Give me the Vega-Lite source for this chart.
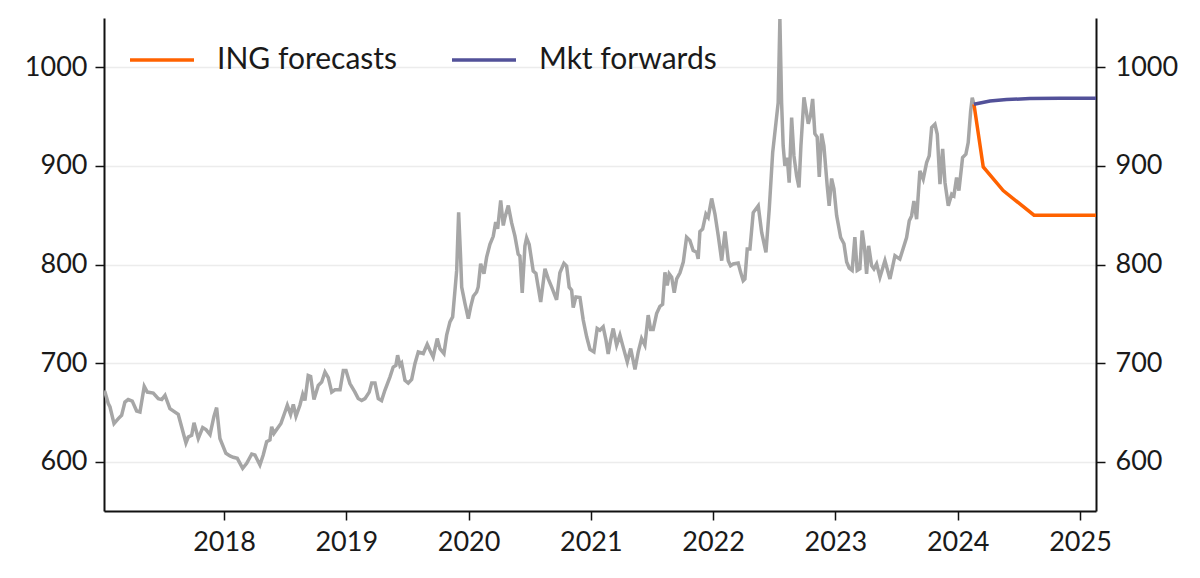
{
  "$schema": "https://vega.github.io/schema/vega-lite/v6.json",
  "width": 992,
  "height": 493,
  "autosize": {"type": "none"},
  "padding": {"left": 104, "top": 18, "right": 104, "bottom": 67},
  "background": "white",
  "config": {
    "view": {"stroke": null},
    "font": "Lato",
    "axis": {
      "labelFont": "Lato",
      "labelFontSize": 27,
      "labelColor": "#1a1a1a",
      "domainColor": "#111111",
      "domainWidth": 2,
      "tickColor": "#111111",
      "tickWidth": 1.5,
      "tickSize": 9,
      "labelPadding": 8,
      "gridColor": "#ececec",
      "gridWidth": 1.5,
      "title": null
    }
  },
  "datasets": {
    "history": [
      {"t": 2017.019, "v": 671}, {"t": 2017.027, "v": 670.6}, {"t": 2017.054, "v": 659}, {"t": 2017.068, "v": 655.5},
      {"t": 2017.101, "v": 638.7}, {"t": 2017.136, "v": 643.7}, {"t": 2017.163, "v": 647}, {"t": 2017.19, "v": 660.5},
      {"t": 2017.217, "v": 663}, {"t": 2017.25, "v": 661.5}, {"t": 2017.286, "v": 651.4}, {"t": 2017.313, "v": 650.4},
      {"t": 2017.348, "v": 676.4}, {"t": 2017.373, "v": 670.6}, {"t": 2017.422, "v": 669.6}, {"t": 2017.463, "v": 664},
      {"t": 2017.491, "v": 663}, {"t": 2017.518, "v": 667.3}, {"t": 2017.558, "v": 653.8}, {"t": 2017.626, "v": 648},
      {"t": 2017.654, "v": 635.2}, {"t": 2017.689, "v": 619}, {"t": 2017.708, "v": 625}, {"t": 2017.736, "v": 626.8},
      {"t": 2017.755, "v": 639.5}, {"t": 2017.79, "v": 623.5}, {"t": 2017.826, "v": 634.6}, {"t": 2017.853, "v": 632.6},
      {"t": 2017.886, "v": 627.5}, {"t": 2017.918, "v": 646}, {"t": 2017.94, "v": 654.9}, {"t": 2017.967, "v": 623.5},
      {"t": 2018.016, "v": 608.5}, {"t": 2018.049, "v": 605.8}, {"t": 2018.076, "v": 604.5}, {"t": 2018.109, "v": 603.4},
      {"t": 2018.153, "v": 593.3}, {"t": 2018.186, "v": 598.4}, {"t": 2018.227, "v": 607.8}, {"t": 2018.253, "v": 606.8},
      {"t": 2018.294, "v": 596.7}, {"t": 2018.321, "v": 606.8}, {"t": 2018.349, "v": 620.2}, {"t": 2018.376, "v": 622},
      {"t": 2018.39, "v": 635.4}, {"t": 2018.409, "v": 628.7}, {"t": 2018.431, "v": 632.6}, {"t": 2018.466, "v": 638.8},
      {"t": 2018.499, "v": 650.4}, {"t": 2018.518, "v": 657.2}, {"t": 2018.545, "v": 648}, {"t": 2018.567, "v": 658},
      {"t": 2018.589, "v": 646}, {"t": 2018.621, "v": 657.2}, {"t": 2018.644, "v": 668.3}, {"t": 2018.662, "v": 662.1},
      {"t": 2018.689, "v": 687.5}, {"t": 2018.709, "v": 686.5}, {"t": 2018.736, "v": 663}, {"t": 2018.771, "v": 677.4},
      {"t": 2018.799, "v": 680.8}, {"t": 2018.826, "v": 690.9}, {"t": 2018.853, "v": 685.2}, {"t": 2018.881, "v": 670.6},
      {"t": 2018.908, "v": 673}, {"t": 2018.949, "v": 673}, {"t": 2018.976, "v": 692.6}, {"t": 2018.998, "v": 692.6},
      {"t": 2019.03, "v": 679.2}, {"t": 2019.071, "v": 670.6}, {"t": 2019.098, "v": 664}, {"t": 2019.126, "v": 662},
      {"t": 2019.153, "v": 664}, {"t": 2019.188, "v": 670.6}, {"t": 2019.208, "v": 679.8}, {"t": 2019.235, "v": 679.8},
      {"t": 2019.262, "v": 664}, {"t": 2019.289, "v": 662}, {"t": 2019.316, "v": 672.4}, {"t": 2019.357, "v": 685.8},
      {"t": 2019.384, "v": 696}, {"t": 2019.406, "v": 697.7}, {"t": 2019.42, "v": 708}, {"t": 2019.439, "v": 697.7},
      {"t": 2019.453, "v": 700}, {"t": 2019.48, "v": 682.5}, {"t": 2019.507, "v": 679.8}, {"t": 2019.535, "v": 683.4},
      {"t": 2019.562, "v": 699.6}, {"t": 2019.589, "v": 711.3}, {"t": 2019.63, "v": 709.7}, {"t": 2019.662, "v": 719},
      {"t": 2019.684, "v": 713}, {"t": 2019.711, "v": 706.2}, {"t": 2019.744, "v": 724.9}, {"t": 2019.766, "v": 714.7},
      {"t": 2019.799, "v": 709.7}, {"t": 2019.821, "v": 728.3}, {"t": 2019.848, "v": 741.9}, {"t": 2019.87, "v": 746.8},
      {"t": 2019.889, "v": 773.8}, {"t": 2019.903, "v": 794}, {"t": 2019.919, "v": 853}, {"t": 2019.935, "v": 807.5},
      {"t": 2019.944, "v": 777}, {"t": 2019.971, "v": 760.3}, {"t": 2019.998, "v": 745}, {"t": 2020.017, "v": 756.8},
      {"t": 2020.039, "v": 767.8}, {"t": 2020.066, "v": 772.1}, {"t": 2020.079, "v": 777.2}, {"t": 2020.099, "v": 800.8},
      {"t": 2020.126, "v": 790.7}, {"t": 2020.148, "v": 807.5}, {"t": 2020.175, "v": 820.4}, {"t": 2020.202, "v": 828.6},
      {"t": 2020.222, "v": 843}, {"t": 2020.238, "v": 836.3}, {"t": 2020.263, "v": 865}, {"t": 2020.284, "v": 839.6},
      {"t": 2020.298, "v": 848}, {"t": 2020.325, "v": 859.8}, {"t": 2020.352, "v": 842.4}, {"t": 2020.379, "v": 829},
      {"t": 2020.406, "v": 810.4}, {"t": 2020.42, "v": 808.7}, {"t": 2020.439, "v": 771.2}, {"t": 2020.461, "v": 818.7},
      {"t": 2020.475, "v": 827}, {"t": 2020.496, "v": 820.4}, {"t": 2020.529, "v": 793.4}, {"t": 2020.551, "v": 791},
      {"t": 2020.59, "v": 762}, {"t": 2020.625, "v": 795.6}, {"t": 2020.652, "v": 785.5}, {"t": 2020.68, "v": 777},
      {"t": 2020.72, "v": 764.2}, {"t": 2020.747, "v": 791.6}, {"t": 2020.78, "v": 801.2}, {"t": 2020.802, "v": 798.4},
      {"t": 2020.823, "v": 777}, {"t": 2020.843, "v": 774}, {"t": 2020.856, "v": 756.4}, {"t": 2020.878, "v": 767.2},
      {"t": 2020.911, "v": 766.6}, {"t": 2020.938, "v": 743.6}, {"t": 2020.966, "v": 726.7}, {"t": 2020.993, "v": 713.9},
      {"t": 2021.025, "v": 711.5}, {"t": 2021.052, "v": 735.1}, {"t": 2021.074, "v": 733.4}, {"t": 2021.101, "v": 736.8},
      {"t": 2021.124, "v": 723.3}, {"t": 2021.142, "v": 709.2}, {"t": 2021.162, "v": 723.3}, {"t": 2021.183, "v": 735.1},
      {"t": 2021.211, "v": 718.2}, {"t": 2021.238, "v": 728.3}, {"t": 2021.26, "v": 718.2}, {"t": 2021.298, "v": 701.2},
      {"t": 2021.326, "v": 714.8}, {"t": 2021.361, "v": 693.5}, {"t": 2021.388, "v": 711.5}, {"t": 2021.415, "v": 725},
      {"t": 2021.442, "v": 718.2}, {"t": 2021.469, "v": 748.7}, {"t": 2021.489, "v": 734.2}, {"t": 2021.51, "v": 734.2},
      {"t": 2021.538, "v": 750.2}, {"t": 2021.565, "v": 757.6}, {"t": 2021.587, "v": 759.6}, {"t": 2021.606, "v": 792},
      {"t": 2021.625, "v": 778.8}, {"t": 2021.641, "v": 790.6}, {"t": 2021.661, "v": 787.2}, {"t": 2021.682, "v": 771.4},
      {"t": 2021.702, "v": 785.5}, {"t": 2021.729, "v": 791.6}, {"t": 2021.756, "v": 802.4}, {"t": 2021.783, "v": 827.7},
      {"t": 2021.81, "v": 824.3}, {"t": 2021.837, "v": 814.2}, {"t": 2021.865, "v": 812.5}, {"t": 2021.878, "v": 805.8},
      {"t": 2021.892, "v": 833.4}, {"t": 2021.914, "v": 836}, {"t": 2021.941, "v": 851.2}, {"t": 2021.96, "v": 847.8},
      {"t": 2021.988, "v": 867}, {"t": 2022.015, "v": 851.2}, {"t": 2022.042, "v": 829.2}, {"t": 2022.07, "v": 803.9},
      {"t": 2022.097, "v": 833.4}, {"t": 2022.124, "v": 803.9}, {"t": 2022.143, "v": 798.8}, {"t": 2022.164, "v": 800.5},
      {"t": 2022.205, "v": 801.5}, {"t": 2022.225, "v": 792}, {"t": 2022.246, "v": 783.6}, {"t": 2022.26, "v": 785.3},
      {"t": 2022.279, "v": 815.6}, {"t": 2022.301, "v": 815.6}, {"t": 2022.328, "v": 852.7}, {"t": 2022.369, "v": 859.5},
      {"t": 2022.397, "v": 832.5}, {"t": 2022.432, "v": 812.3}, {"t": 2022.459, "v": 856.2}, {"t": 2022.487, "v": 913.5},
      {"t": 2022.514, "v": 943.9}, {"t": 2022.532, "v": 964.1}, {"t": 2022.546, "v": 1049}, {"t": 2022.56, "v": 964.1},
      {"t": 2022.573, "v": 920.2}, {"t": 2022.587, "v": 900}, {"t": 2022.606, "v": 908.4}, {"t": 2022.622, "v": 883.1},
      {"t": 2022.642, "v": 948.9}, {"t": 2022.661, "v": 910.1}, {"t": 2022.683, "v": 889.9}, {"t": 2022.702, "v": 878.1},
      {"t": 2022.718, "v": 920.2}, {"t": 2022.743, "v": 969.6}, {"t": 2022.778, "v": 942.7}, {"t": 2022.797, "v": 951.1},
      {"t": 2022.814, "v": 968}, {"t": 2022.832, "v": 932.7}, {"t": 2022.851, "v": 929.3}, {"t": 2022.868, "v": 888.8},
      {"t": 2022.887, "v": 932.7}, {"t": 2022.906, "v": 920.2}, {"t": 2022.933, "v": 879.8}, {"t": 2022.949, "v": 859.5},
      {"t": 2022.969, "v": 887.2}, {"t": 2022.988, "v": 876.8}, {"t": 2023.01, "v": 849.8}, {"t": 2023.043, "v": 827.4},
      {"t": 2023.07, "v": 821}, {"t": 2023.092, "v": 802.5}, {"t": 2023.113, "v": 796.4}, {"t": 2023.137, "v": 794},
      {"t": 2023.159, "v": 827.7}, {"t": 2023.178, "v": 794}, {"t": 2023.2, "v": 795.7}, {"t": 2023.219, "v": 834.4},
      {"t": 2023.239, "v": 815.7}, {"t": 2023.255, "v": 790.4}, {"t": 2023.272, "v": 819}, {"t": 2023.296, "v": 798.8},
      {"t": 2023.315, "v": 795.5}, {"t": 2023.337, "v": 800.6}, {"t": 2023.364, "v": 787.1}, {"t": 2023.405, "v": 803.9},
      {"t": 2023.446, "v": 785.3}, {"t": 2023.487, "v": 808.9}, {"t": 2023.527, "v": 805.5}, {"t": 2023.582, "v": 827.4},
      {"t": 2023.604, "v": 844.3}, {"t": 2023.623, "v": 849.3}, {"t": 2023.642, "v": 864.5}, {"t": 2023.664, "v": 846},
      {"t": 2023.691, "v": 895}, {"t": 2023.718, "v": 886.6}, {"t": 2023.746, "v": 903.4}, {"t": 2023.767, "v": 910.2},
      {"t": 2023.787, "v": 938.8}, {"t": 2023.814, "v": 942.2}, {"t": 2023.833, "v": 932.1}, {"t": 2023.855, "v": 881.6},
      {"t": 2023.877, "v": 917.2}, {"t": 2023.896, "v": 883.2}, {"t": 2023.923, "v": 859.5}, {"t": 2023.951, "v": 871.3},
      {"t": 2023.969, "v": 869.6}, {"t": 2023.991, "v": 888.3}, {"t": 2024.01, "v": 874.9}, {"t": 2024.04, "v": 908.5},
      {"t": 2024.067, "v": 911.9}, {"t": 2024.086, "v": 923.7}, {"t": 2024.106, "v": 955.7}, {"t": 2024.119, "v": 969.2},
      {"t": 2024.133, "v": 962.5}
    ],
    "outlook": [
      {"t": 2024.133, "v": 962.5, "series": "ING forecasts"},
      {"t": 2024.209, "v": 899, "series": "ING forecasts"},
      {"t": 2024.372, "v": 875, "series": "ING forecasts"},
      {"t": 2024.624, "v": 850, "series": "ING forecasts"},
      {"t": 2025.131, "v": 850, "series": "ING forecasts"},
      {"t": 2024.133, "v": 962.5, "series": "Mkt forwards"},
      {"t": 2024.264, "v": 965.9, "series": "Mkt forwards"},
      {"t": 2024.4, "v": 967.3, "series": "Mkt forwards"},
      {"t": 2024.59, "v": 968.3, "series": "Mkt forwards"},
      {"t": 2024.836, "v": 968.6, "series": "Mkt forwards"},
      {"t": 2025.131, "v": 968.6, "series": "Mkt forwards"}
    ]
  },
  "layer": [
    {
      "data": {"name": "history"},
      "mark": {"type": "line", "color": "#a6a6a6", "strokeWidth": 3.5, "clip": true},
      "encoding": {
        "x": {
          "field": "t",
          "type": "quantitative",
          "scale": {"domain": [2017.019, 2025.131], "nice": false, "zero": false},
          "axis": {"values": [2018, 2019, 2020, 2021, 2022, 2023, 2024, 2025], "format": "d", "grid": false, "labelPadding": 9}
        },
        "y": {
          "field": "v",
          "type": "quantitative",
          "scale": {"domain": [550, 1050], "nice": false, "zero": false},
          "axis": {"orient": "left", "values": [600, 700, 800, 900, 1000], "format": "d", "grid": true}
        }
      }
    },
    {
      "data": {"name": "outlook"},
      "mark": {"type": "line", "strokeWidth": 3.5, "clip": true},
      "encoding": {
        "x": {"field": "t", "type": "quantitative"},
        "y": {
          "field": "v",
          "type": "quantitative",
          "axis": {"orient": "right", "values": [600, 700, 800, 900, 1000], "format": "d", "grid": false, "labelPadding": 10}
        },
        "color": {
          "field": "series",
          "type": "nominal",
          "scale": {"domain": ["ING forecasts", "Mkt forwards"], "range": ["#ff6200", "#525199"]},
          "legend": {
            "title": null,
            "orient": "none",
            "legendX": 24,
            "legendY": 8,
            "direction": "horizontal",
            "symbolType": "stroke",
            "symbolSize": 4096,
            "symbolStrokeWidth": 3.5,
            "labelFont": "Lato",
            "labelFontSize": 30,
            "labelColor": "#1a1a1a",
            "labelOffset": 21,
            "columnPadding": 47,
            "padding": 0,
            "labelLimit": 400
          }
        }
      }
    }
  ],
  "resolve": {"axis": {"y": "independent"}}
}
